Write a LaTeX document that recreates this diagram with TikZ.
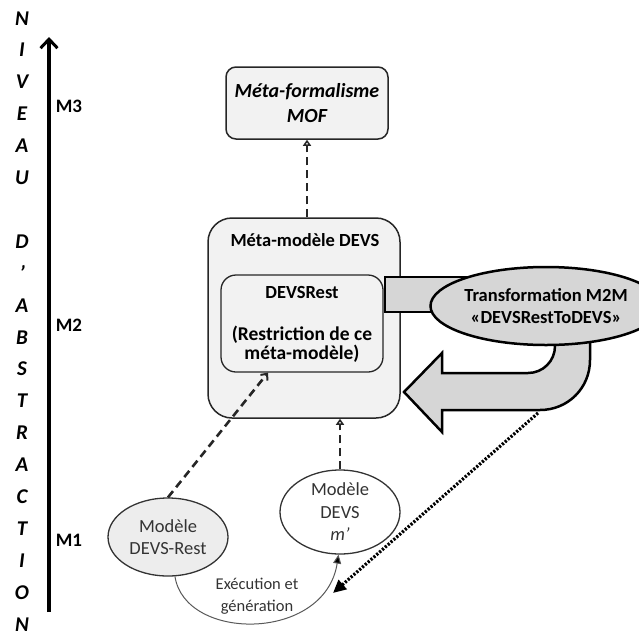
\documentclass[tikz,border=0pt]{standalone}
\usepackage{fontspec}
\setmainfont{Carlito}
\usetikzlibrary{arrows.meta,shapes.geometric}
\definecolor{boxfill}{HTML}{F2F2F2}
\definecolor{midgray}{HTML}{D6D6D6}
\definecolor{lightell}{HTML}{EDEDED}
\definecolor{txtgray}{HTML}{333333}
\begin{document}
\begin{tikzpicture}[x=1pt,y=-1pt,
  letter/.style={font=\fontsize{21}{21}\selectfont\bfseries\itshape, text height=14pt, text depth=0pt, inner sep=0pt},
  mlabel/.style={font=\fontsize{19}{19}\selectfont\bfseries, inner sep=0pt},
  rbox/.style={draw=black!85, line width=1.5pt, fill=boxfill, inner sep=0pt},
  bigtext/.style={font=\fontsize{18.5}{18}\selectfont\bfseries, align=center, inner sep=0pt},
  modtext/.style={draw=black!80, line width=1.3pt, ellipse, inner sep=0pt, text=txtgray, align=center, font=\fontsize{18.5}{22.5}\selectfont},
  dasharrow/.style={draw=black!85, line width=2.6pt, dash pattern=on 8pt off 5pt},
  thickblack/.style={draw=black, line width=2.5pt, fill=midgray, line join=miter}
]
\useasboundingbox (0,0) rectangle (639,637);

% vertical label
\foreach \ch/\k in {N/0,I/1,V/2,E/3,A/4,U/5,D/7,’/8,A/9,B/10,S/11,T/12,R/13,A/14,C/15,T/16,I/17,O/18,N/19}
  \node[letter] (l\k) at (22,{18+31.9*\k}) {\ch};

% axis
\coordinate (abot) at (49,612);
\coordinate (atop) at (49,37);
\draw[line width=3.5pt,-{Straight Barb[length=9pt,width=17pt,line width=3pt]}] (abot) -- (atop);
\node[mlabel] (m3) at (69,106) {M3};
\node[mlabel] (m2) at (69,325) {M2};
\node[mlabel] (m1) at (69,540) {M1};

% MOF
\node[rbox, rounded corners=10pt, minimum width=162pt, minimum height=72pt,
      font=\fontsize{20}{25}\selectfont\bfseries\itshape, align=center] (mof) at (307,103) {Méta-formalisme\\MOF};

% outer meta-model box
\node[rbox, rounded corners=24pt, minimum width=192pt, minimum height=200pt] (outer) at (304,318) {};
\node[bigtext] (outtitle) at (305,240) {Méta-modèle DEVS};
\node[rbox, line width=1.3pt, rounded corners=15pt, minimum width=162pt, minimum height=97pt] (inner) at (302,323.5) {};
\node[bigtext] (innertitle) at (302,292) {DEVSRest};
\node[bigtext, font=\fontsize{19.5}{18.5}\selectfont\bfseries] (innertext) at (302,344) {(Restriction de ce\\méta-modèle)};

% grey bar
\node[thickblack, rectangle, minimum width=85pt, minimum height=35pt, inner sep=0pt] (bar) at (427.5,294.5) {};

% U-turn block arrow
\draw[thickblack] (404,392) -- (442,353) -- (442,373) -- (528,373)
  .. controls (543,373) and (555,361) .. (555,346) -- (555,330) -- (590,330) -- (590,360)
  .. controls (590,388) and (568,410) .. (540,410) -- (442,410) -- (442,432) -- cycle;

% transformation ellipse
\node[thickblack, ellipse, minimum width=186pt, minimum height=78pt, inner sep=0pt,
      font=\fontsize{18.5}{22}\selectfont\bfseries, align=center] (m2m) at (546,306)
  {Transformation M2M\\«DEVSRestToDEVS»};

% models
\node[modtext, fill=white, minimum width=120pt, minimum height=84pt] (mdevs) at (340,512)
  {Modèle\\DEVS\\\textit{m’}};
\node[modtext, fill=lightell, minimum width=120pt, minimum height=78pt] (mrest) at (168,537)
  {Modèle\\DEVS-Rest};

% dashed arrows
\draw[dasharrow, -{Triangle[open,length=6pt,width=8pt,line width=1.5pt]}] (outer.north -| mof.south) -- (mof.south);
\draw[dasharrow, -{Triangle[open,length=6pt,width=8pt,line width=1.5pt]}] (mdevs.north) -- (mdevs.north |- outer.south);
\draw[dasharrow, -{Straight Barb[length=5pt,width=9pt,line width=2pt]}] (mrest.north) -- ([xshift=-34pt]inner.south);

% dotted arrow
\coordinate (dotstart) at (538,413);
\draw[line width=3.2pt, dash pattern=on 2.2pt off 1.6pt, -{Triangle[length=13pt,width=12pt]}] (dotstart) -- (333,593);

% execution arc
\draw[draw=black!65, line width=1pt, -{Triangle[length=9pt,width=8pt,fill=black]}]
  (mrest.-80) .. controls (185,642) and (325,642) .. (mdevs.-92);
\node[font=\fontsize{16.5}{22}\selectfont, text=txtgray, align=center, inner sep=0pt] (exec) at (257,596) {Exécution et\\génération};
\end{tikzpicture}
\end{document}
